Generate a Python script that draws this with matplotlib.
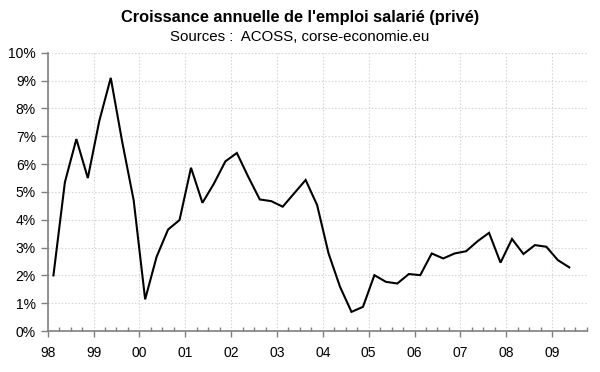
import matplotlib
matplotlib.use("Agg")
import matplotlib.pyplot as plt
from matplotlib.ticker import FixedLocator, FuncFormatter

# quarterly growth, 98Q1 .. 09Q2 (%)
growth = [2.0, 5.35, 6.9, 5.5, 7.55, 9.1, 6.8, 4.7,
          1.14, 2.67, 3.65, 3.99, 5.87, 4.61, 5.3, 6.1,
          6.4, 5.54, 4.73, 4.67, 4.47, 4.95, 5.43, 4.53,
          2.79, 1.59, 0.69, 0.87, 2.01, 1.77, 1.71, 2.05,
          2.01, 2.79, 2.61, 2.79, 2.87, 3.23, 3.53, 2.46,
          3.31, 2.77, 3.09, 3.03, 2.55, 2.29]
year_labels = ["98", "99", "00", "01", "02", "03", "04", "05", "06", "07", "08", "09"]
n_slots = 47  # category slots on the axis (one left empty at the end)

GREY = "#808080"
plt.rcParams["font.family"] = ["Liberation Sans", "DejaVu Sans"]

fig = plt.figure(figsize=(6, 3.72), dpi=100)
ax = fig.add_axes([0.0795, 0.110, 0.898, 0.748])

x = [i + 0.5 for i in range(len(growth))]
ax.plot(x, growth, color="black", lw=1.5, solid_joinstyle="miter", zorder=3)

ax.set_xlim(0, n_slots)
ax.set_ylim(0, 10)

major = [4 * k for k in range(len(year_labels))]
ax.xaxis.set_major_locator(FixedLocator(major))
ax.xaxis.set_minor_locator(FixedLocator([i for i in range(1, n_slots + 1) if i % 4]))
ax.set_xticklabels(year_labels, fontsize=10)
ax.set_yticks(range(0, 11))
ax.yaxis.set_major_formatter(FuncFormatter(lambda v, p: f"{v:.0f}%"))
ax.tick_params(axis="y", labelsize=10, length=5, color=GREY, width=1, pad=3.5)
ax.tick_params(axis="x", which="major", length=4, direction="out", color=GREY, width=1, pad=7)
ax.tick_params(axis="x", which="minor", length=3, direction="in", color=GREY, width=1)

ax.grid(True, which="major", color="#d2d2d2", ls=(0, (1.2, 1.8)), lw=0.8)
ax.set_axisbelow(True)
for s in ("top", "right"):
    ax.spines[s].set_visible(False)
for s in ("left", "bottom"):
    ax.spines[s].set_color(GREY)
    ax.spines[s].set_linewidth(1.2)

fig.text(0.5, 0.953, "Croissance annuelle de l'emploi salarié (privé)",
         ha="center", va="center", fontsize=11.8, fontweight="bold")
fig.text(0.5, 0.900, "Sources :  ACOSS, corse-economie.eu",
         ha="center", va="center", fontsize=10.8)

fig.savefig("out.png", dpi=100, facecolor="white")
